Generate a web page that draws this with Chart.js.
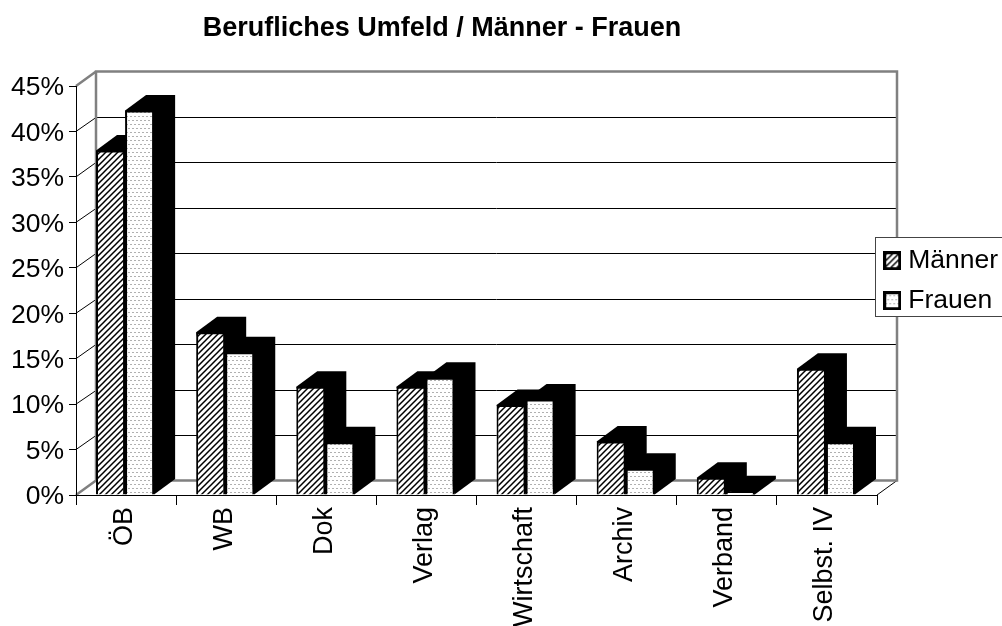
<!DOCTYPE html>
<html><head><meta charset="utf-8">
<style>html,body{margin:0;padding:0;background:#fff}canvas{display:block}</style>
<script src="https://cdn.jsdelivr.net/npm/chart.js@4"></script></head>
<body><canvas id="c" width="1002" height="626"></canvas>
<script>
const categories = ['ÖB','WB','Dok','Verlag','Wirtschaft','Archiv','Verband','Selbst. IV'];
const maenner = [37.9,17.9,11.9,11.9,9.9,5.9,1.9,13.9];
const frauen  = [42.3,15.7,5.8,12.9,10.5,2.9,0.4,5.8];
const seriesNames = ['Männer','Frauen'];
const titleText = 'Berufliches Umfeld / Männer - Frauen';
const DX = 20, DY = 14.5, BDX = 21, BDY = 15.5, FONT = 'Liberation Sans, Arial, sans-serif';
const LEGEND = {left:876, top:238, bottom:317};

function hatch(){
  const t=document.createElement('canvas');t.width=6;t.height=6;const g=t.getContext('2d');
  g.fillStyle='#fff';g.fillRect(0,0,6,6);g.strokeStyle='#000';g.lineWidth=1.5;
  g.beginPath();g.moveTo(-1,7);g.lineTo(7,-1);g.moveTo(-1,1);g.lineTo(1,-1);g.moveTo(5,7);g.lineTo(7,5);g.stroke();
  return g.createPattern(t,'repeat');
}
function dots(){
  const t=document.createElement('canvas');t.width=8;t.height=8;const g=t.getContext('2d');
  g.fillStyle='#fff';g.fillRect(0,0,8,8);g.fillStyle='#b0b0b0';
  [[0,0],[4,0],[2,4],[6,4]].forEach(p=>g.fillRect(p[0],p[1],2,1));
  return g.createPattern(t,'repeat');
}
function swatch(pattern){
  const t=document.createElement('canvas');t.width=18;t.height=19;const g=t.getContext('2d');
  g.fillStyle=pattern;g.fillRect(0,0,18,19);g.strokeStyle='#000';g.lineWidth=3;g.strokeRect(1.5,1.5,15,16);
  return t;
}
const hatchFill=hatch(), dotFill=dots();
const swatches=[swatch(hatchFill),swatch(dotFill)];
const ctx=document.getElementById('c').getContext('2d');

const box3d={id:'box3d',
  afterDatasetsUpdate(ch){
    ch.getSortedVisibleDatasetMetas().forEach(m=>m.data.forEach(el=>{el.x-=1;}));
  },
  afterLayout(ch){
    const lg=ch.legend; lg.left=LEGEND.left; lg.right=1002; lg.top=LEGEND.top-4; lg.bottom=LEGEND.top+200; lg.adjustHitBoxes();
    const tb=ch.titleBlock; tb.left=0; tb.right=884;
    ch.scales.y.getLabelItems().forEach(it=>{it.textOffset+=2;});
    ch.scales.x.getLabelItems().forEach(it=>{it.textOffset-=2;});
  },
  beforeDraw(ch){
    const c=ch.ctx,a=ch.chartArea,y=ch.scales.y;
    c.save();c.fillStyle='#fff';c.fillRect(0,0,ch.width,ch.height);
    const L=a.left,R=a.right,T=a.top,B=a.bottom;
    c.strokeStyle='#000';c.lineWidth=1;
    y.ticks.forEach(t=>{
      const p=y.getPixelForValue(t.value);
      const back=Math.round(p-DY)+.5;
      const inner=t.value>0&&t.value<45;
      if(inner){c.beginPath();c.moveTo(L+DX,back);c.lineTo(R+DX,back);c.stroke();
      c.beginPath();c.moveTo(L,p);c.lineTo(L+DX,back);c.stroke();}
    });
    c.beginPath();c.moveTo(R,B);c.lineTo(R+DX,B-DY);c.stroke();
    c.strokeStyle='#808080';c.lineWidth=2.5;
    c.beginPath();c.moveTo(L+DX,B-DY);c.lineTo(L+DX,T-DY);c.lineTo(R+DX,T-DY);c.lineTo(R+DX,B-DY);c.lineTo(L+DX,B-DY);c.lineTo(L,B);c.moveTo(L,T);c.lineTo(L+DX,T-DY);c.stroke();
    // legend frame
    c.fillStyle='#fff';c.strokeStyle='#444';c.lineWidth=1;
    c.fillRect(LEGEND.left,LEGEND.top,ch.width-LEGEND.left,LEGEND.bottom-LEGEND.top);
    c.strokeRect(LEGEND.left-.5,LEGEND.top-.5,ch.width-LEGEND.left+2,LEGEND.bottom-LEGEND.top);
    c.restore();
  },
  beforeDatasetsDraw(ch){
    const c=ch.ctx;c.save();c.fillStyle='#000';
    ch.getSortedVisibleDatasetMetas().forEach(m=>m.data.forEach(el=>{
      const l=el.x-el.width/2,r=el.x+el.width/2;
      c.beginPath();c.moveTo(l,el.y);c.lineTo(l+BDX,el.y-BDY);c.lineTo(r+BDX,el.y-BDY);c.lineTo(r+BDX,el.base-BDY);c.lineTo(r,el.base);c.closePath();c.fill();
    }));
    c.restore();
  }
};

new Chart(ctx,{type:'bar',plugins:[box3d],
 data:{labels:categories,datasets:[
  {label:seriesNames[0],data:maenner,backgroundColor:hatchFill,borderColor:'#000',borderWidth:2,categoryPercentage:.58,barPercentage:1},
  {label:seriesNames[1],data:frauen,backgroundColor:dotFill,borderColor:'#000',borderWidth:2,categoryPercentage:.58,barPercentage:1}
 ]},
 options:{responsive:false,animation:false,devicePixelRatio:1,
  layout:{padding:{left:0,right:125,top:0,bottom:0}},
  plugins:{
   title:{display:true,text:titleText,color:'#000',font:{family:FONT,size:27,weight:'bold'},padding:{top:12,bottom:41.6}},
   legend:{display:true,position:'chartArea',align:'start',
     labels:{color:'#000',font:{family:FONT,size:26.5},usePointStyle:true,pointStyleWidth:5.5,boxHeight:18,padding:13.5,
       generateLabels(ch){return Chart.defaults.plugins.legend.labels.generateLabels(ch).map((l,i)=>({...l,pointStyle:swatches[i]}));}}},
   tooltip:{enabled:false}
  },
  scales:{
   x:{grid:{drawOnChartArea:false,color:'#000',tickLength:10,offset:true},border:{color:'#000'},
      ticks:{color:'#000',font:{family:FONT,size:27},minRotation:90,maxRotation:90,autoSkip:false,padding:2},
      afterFit(s){s.height=131}},
   y:{min:0,max:45,grid:{drawOnChartArea:false,color:'#000',tickLength:7},border:{color:'#000'},
      ticks:{stepSize:5,color:'#000',font:{family:FONT,size:26.5},padding:5,callback:v=>v+'%'},
      afterFit(s){s.width=76}}
  }}
});
</script></body></html>
